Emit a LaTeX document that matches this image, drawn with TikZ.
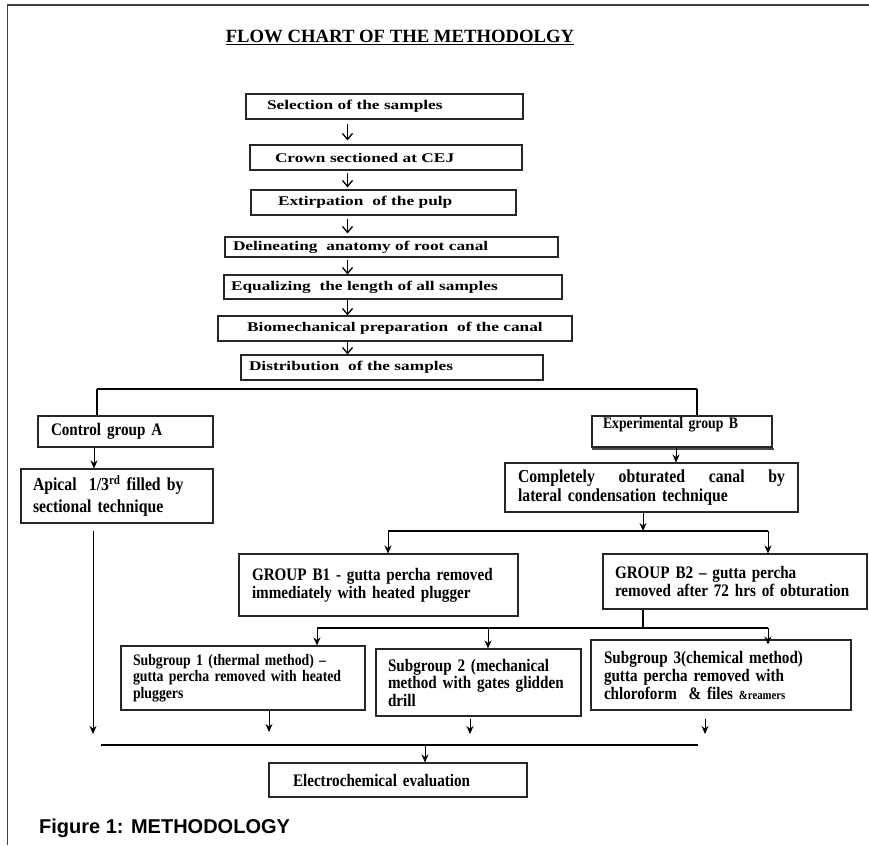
\documentclass[tikz,border=0pt]{standalone}
\usepackage{fontspec}
\setmainfont{Liberation Serif}
\newfontfamily\capfont{Liberation Sans}
\newfontfamily\wideserif{Liberation Serif}[FakeStretch=1.3,Ligatures=TeX]
\newfontfamily\condserif{Liberation Serif}[FakeStretch=0.86,Ligatures=TeX]
\usetikzlibrary{arrows.meta,calc}
\newcommand{\fsz}[2]{\fontsize{#1pt}{#2pt}\selectfont}
\begin{document}
\begin{tikzpicture}[x=1pt,y=-1pt,
  box/.style={draw=black!85, line width=1.1pt, rectangle, inner ysep=0pt, align=left},
  topbox/.style={box, font=\wideserif\bfseries\fsz{13.3}{16}},
  lowbox/.style={box, font=\condserif\bfseries\fsz{17.6}{18.3}},
  toparr/.style={-{Straight Barb[length=6pt,width=10pt,line width=1.3pt]}, line width=1.4pt},
  arr/.style={-{Stealth[length=8pt,width=7pt]}, line width=0.9pt},
  ln/.style={line width=1.2pt}]
\useasboundingbox (0,0) rectangle (869,845);
\fill[white] (0,0) rectangle (869,845);
% frame
\draw[line width=1.6pt, black!75] (7.5,845) -- (7.5,5) -- (869,5);
% title
\node[anchor=base, font=\bfseries\fsz{18.7}{22}, inner sep=0pt] (title) at (400,43) {\underline{FLOW CHART OF THE METHODOLGY}};
% top chain
\coordinate (ax) at (347.5,0);
\node[topbox, minimum width=277pt, minimum height=25pt, inner xsep=21pt, text width=235pt] (sel) at (384.5,106.5) {Selection of the samples};
\node[topbox, minimum width=272pt, minimum height=25pt, inner xsep=25pt, text width=222pt] (crown) at (386,157.5) {Crown sectioned at CEJ};
\node[topbox, minimum width=265pt, minimum height=25pt, inner xsep=27pt, text width=211pt] (ext) at (383.5,202.5) {Extirpation\ \ of the pulp};
\node[topbox, minimum width=333pt, minimum height=20pt, inner xsep=8pt, text width=317pt] (del) at (391.5,247) {Delineating\ \ anatomy of root canal};
\node[topbox, minimum width=338pt, minimum height=24pt, inner xsep=7pt, text width=324pt] (equ) at (393,287) {Equalizing\ \ the length of all samples};
\node[topbox, minimum width=354pt, minimum height=25pt, inner xsep=10pt, text width=334pt, align=center] (bio) at (395,328.5) {Biomechanical preparation\ \ of the canal};
\node[topbox, minimum width=302pt, minimum height=25pt, inner xsep=8pt, text width=286pt] (dist) at (392,367.5) {Distribution\ \ of the samples};
\draw[toparr] ([yshift=-4pt]sel.south -| ax) -- ([yshift=4pt]crown.north -| ax);
\draw[toparr] ([yshift=-2pt]crown.south -| ax) -- ([yshift=2pt]ext.north -| ax);
\draw[toparr] ([yshift=-3pt]ext.south -| ax) -- ([yshift=3pt]del.north -| ax);
\draw[toparr] ([yshift=-2pt]del.south -| ax) -- (equ.north -| ax);
\draw[toparr] (equ.south -| ax) -- (bio.north -| ax);
\draw[toparr] (bio.south -| ax) -- (dist.north -| ax);
% split A / B
\node[lowbox, minimum width=175pt, minimum height=31pt, inner xsep=13pt, text width=149pt] (ctrl) at (125.5,431.5) {Control group A};
\node[lowbox, font=\condserif\bfseries\fsz{16}{18}, minimum width=180pt, minimum height=31pt, inner xsep=11pt, text width=158pt, text height=12pt, text depth=19pt] (expb) at (682,431.5) {Experimental group B};
\draw[line width=2.2pt, black!70] ([xshift=1pt,yshift=-1.5pt]expb.south west) -- ([xshift=1pt,yshift=-1.5pt]expb.south east);
\coordinate (sl) at (97,389);
\coordinate (splitR) at (697,389);
\draw[ln] (sl) -- (splitR);
\draw[ln] (sl) -- (sl |- ctrl.north);
\draw[ln] (splitR) -- (splitR |- expb.north);
% branch A
\node[lowbox, font=\condserif\bfseries\fsz{18.3}{22}, minimum width=192pt, minimum height=54pt, inner xsep=12pt, text width=168pt] (apical) at (117,496) {Apical\ \ 1/3\textsuperscript{rd} filled by\\sectional technique};
\coordinate (ca) at (94,0);
\draw[arr] (ctrl.south -| ca) -- (apical.north -| ca);
% branch B
\node[lowbox, font=\condserif\bfseries\fsz{18.3}{18.5}, minimum width=293pt, minimum height=49pt, inner xsep=13pt, text width=267pt] (compl) at (651.5,487.5) {Completely\hfill obturated\hfill canal\hfill by\\lateral condensation technique};
\coordinate (ce) at (676,0);
\draw[arr] (expb.south -| ce) -- (compl.north -| ce);
\node[lowbox, minimum width=279pt, minimum height=62pt, inner xsep=13pt, text width=253pt] (gb1) at (378.5,585) {GROUP B1 - gutta percha removed\\immediately with heated plugger};
\node[lowbox, minimum width=264pt, minimum height=55pt, inner xsep=12pt, text width=240pt] (gb2) at (735,581.5) {GROUP B2 \textendash\ gutta percha\\removed after 72 hrs of obturation};
\coordinate (jb) at (643,531);
\draw[arr] (compl.south -| jb) -- (jb);
\coordinate (jbl) at (388,531);
\coordinate (jbr) at (768,531);
\draw[ln] (jbl) -- (jbr);
\draw[arr] (jbl) -- (jbl |- gb1.north);
\draw[arr] (jbr) -- (jbr |- gb2.north);
% subgroups
\node[lowbox, font=\condserif\bfseries\fsz{16}{16.3}, minimum width=244pt, minimum height=64pt, inner xsep=12pt, text width=220pt] (s1) at (243,678) {Subgroup 1 (thermal method) \textendash\\gutta percha removed with heated\\pluggers};
\node[lowbox, font=\condserif\bfseries\fsz{17.6}{17.5}, minimum width=205pt, minimum height=67pt, inner xsep=12pt, text width=181pt] (s2) at (478.5,682.5) {Subgroup 2 (mechanical\\method with gates glidden\\drill};
\node[lowbox, font=\condserif\bfseries\fsz{17.6}{18}, minimum width=260pt, minimum height=70pt, inner xsep=13pt, text width=234pt] (s3) at (721,675) {Subgroup 3(chemical method)\\gutta percha removed with\\chloroform\ \ \& files {\fsz{12.5}{12}\&reamers}};
\coordinate (js) at (643,628);
\draw[ln] (gb2.south -| js) -- (js);
\coordinate (jsl) at (317,628);
\coordinate (jsm) at (488,628);
\coordinate (jsr) at (768,628);
\draw[ln] (jsl) -- (jsr);
\draw[arr] (jsl) -- (jsl |- s1.north);
\draw[arr] (jsm) -- (jsm |- s2.north);
\draw[arr] (jsr) -- ([yshift=-5pt]jsr |- s3.north);
% merge
\node[lowbox, minimum width=258pt, minimum height=34pt, inner xsep=24pt, text width=210pt] (elec) at (398,780) {Electrochemical evaluation};
\coordinate (ea) at (93,734);
\coordinate (e1) at (269,732);
\coordinate (e2) at (470,734);
\coordinate (e3) at (705,734);
\draw[arr] ([yshift=-7pt]apical.south -| ea) -- (ea);
\draw[arr] (s1.south -| e1) -- (e1);
\draw[arr] ([yshift=-2pt]s2.south -| e2) -- (e2);
\draw[arr] ([yshift=-8pt]s3.south -| e3) -- (e3);
\coordinate (ml) at (101,745);
\coordinate (mr) at (698,745);
\coordinate (mm) at (425,745);
\draw[ln] (ml) -- (mr);
\draw[arr] (mm) -- (mm |- elec.north);
% caption
\node[anchor=base west, inner sep=0pt, font=\capfont\bfseries\fsz{20}{24}] (cap) at (39,833) {Figure 1: METHODOLOGY};
\end{tikzpicture}
\end{document}
